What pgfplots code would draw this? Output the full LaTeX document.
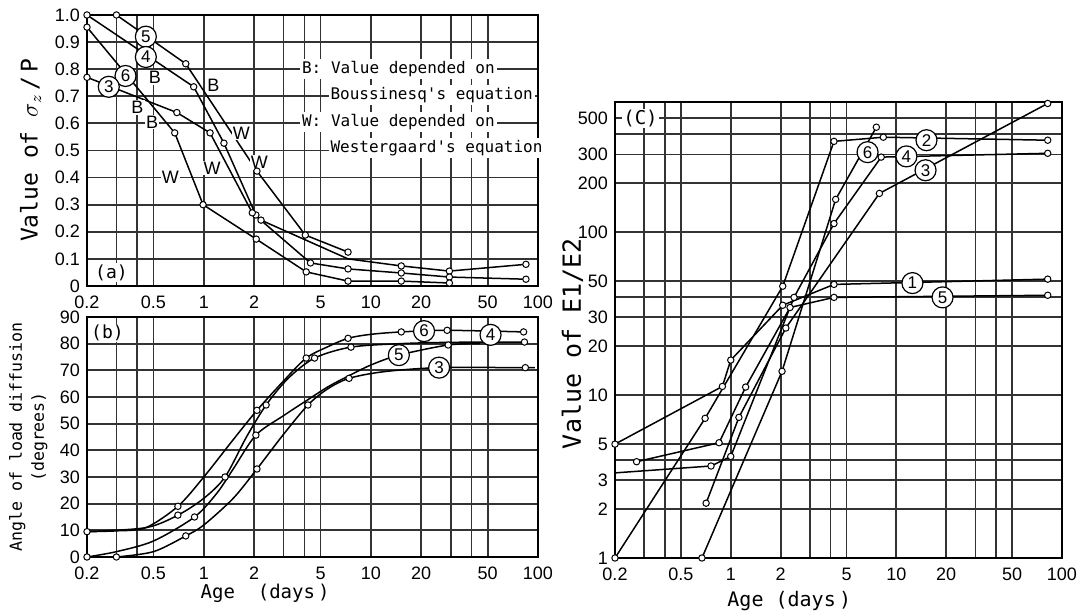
\documentclass[border=0pt]{standalone}
\usepackage{fontspec}
\setmainfont{Liberation Sans}
\newfontfamily\monof{DejaVu Sans Mono}
\usepackage{pgfplots}
\pgfplotsset{compat=1.18}
\tikzset{cnum/.style={circle, draw=black, line width=0.6pt, fill=white, inner sep=0pt, minimum size=10.5pt, font=\fontsize{8.5}{8.5}\selectfont},
lab/.style={fill=white, inner sep=0.6pt, font=\fontsize{9}{9}\selectfont},
leg/.style={fill=white, inner sep=1pt, anchor=west, font=\monof\fontsize{8}{9}\selectfont}}
\pgfplotsset{
dl/.style={black, line width=0.75pt, mark=*, mark size=1.6pt, mark options={fill=white, line width=0.5pt, solid}},
cl/.style={black, line width=0.75pt, smooth, no marks},
mk/.style={only marks, mark=*, mark size=1.6pt, mark options={fill=white, draw=black, line width=0.5pt}}
}
\begin{document}
\begin{tikzpicture}
\useasboundingbox (0pt,0pt) rectangle (542pt,307pt);
% ---------------- (a)
\begin{axis}[scale only axis, xmode=log, xmin=0.2, xmax=100,
 xtick={0.2,0.3,0.4,0.5,1,2,3,4,5,10,20,30,40,50,100},
 xticklabels={0.2,,,0.5,1,2,,,5,10,20,,,50,100},
 grid=major, major grid style={black!80, line width=0.9pt},
 major tick length=0pt, minor tick length=0pt,
 axis line style={line width=1pt},
 tick label style={font=\fontsize{9}{9}\selectfont},
 xticklabel style={yshift=-1.5pt},
 clip=false,
 at={(43.5pt,164pt)}, anchor=south west, width=225.5pt, height=135.5pt,
 ymin=0, ymax=1,
 ytick={0,0.1,0.2,0.3,0.4,0.5,0.6,0.7,0.8,0.9,1.0},
 yticklabels={0,0.1,0.2,0.3,0.4,0.5,0.6,0.7,0.8,0.9,1.0},
 ylabel={Value of $\sigma_{z}$\,/\,P},
 ylabel style={at={(axis description cs:-0.125,0.5)}, anchor=center, font=\monof\fontsize{11.5}{12}\selectfont}]
\addplot[dl] coordinates {(0.3,1.0) (0.78,0.82) (2.08,0.424) (4.05,0.188) (7.3,0.125)};
\addplot[dl, mark indices={1,2,3,4,5,7,8,9}] coordinates {(0.2,1.0) (0.87,0.735) (1.32,0.527) (2.05,0.262) (2.2,0.243) (7.3,0.10) (15.2,0.074) (29.5,0.055) (84.7,0.08)};
\addplot[dl] coordinates {(0.2,0.77) (0.69,0.64) (1.09,0.565) (1.95,0.27) (4.35,0.085) (7.3,0.063) (15.2,0.048) (29.5,0.033) (84.7,0.025)};
\addplot[dl] coordinates {(0.2,0.955) (0.67,0.565) (0.99,0.30) (2.06,0.173) (4.1,0.052) (7.3,0.018) (15.2,0.018) (29.5,0.011)};
\node[cnum] at (axis cs:0.45,0.92) {5};
\node[cnum] at (axis cs:0.45,0.845) {4};
\node[cnum] at (axis cs:0.34,0.775) {6};
\node[cnum] at (axis cs:0.27,0.735) {3};
\node[lab] at (axis cs:0.51,0.77) {B};
\node[lab] at (axis cs:1.14,0.74) {B};
\node[lab] at (axis cs:0.40,0.66) {B};
\node[lab] at (axis cs:0.49,0.605) {B};
\node[lab] at (axis cs:0.63,0.40) {W};
\node[lab] at (axis cs:1.12,0.435) {W};
\node[lab] at (axis cs:1.68,0.565) {W};
\node[lab] at (axis cs:2.15,0.457) {W};
\node[lab, font=\monof\fontsize{9}{9}\selectfont] at (axis cs:0.28,0.05) {(a)};
\node[leg] at (axis cs:3.75,0.80) {B:\ Value depended on};
\node[leg] at (axis cs:5.55,0.705) {Boussinesq's equation};
\node[leg] at (axis cs:3.75,0.605) {W:\ Value depended on};
\node[leg] at (axis cs:5.55,0.51) {Westergaard's equation};
\end{axis}
% ---------------- (b)
\begin{axis}[scale only axis, xmode=log, xmin=0.2, xmax=100,
 xtick={0.2,0.3,0.4,0.5,1,2,3,4,5,10,20,30,40,50,100},
 xticklabels={0.2,,,0.5,1,2,,,5,10,20,,,50,100},
 grid=major, major grid style={black!80, line width=0.9pt},
 major tick length=0pt, minor tick length=0pt,
 axis line style={line width=1pt},
 tick label style={font=\fontsize{9}{9}\selectfont},
 xticklabel style={yshift=-1.5pt},
 clip=false,
 at={(43.5pt,28.5pt)}, anchor=south west, width=225.5pt, height=120pt,
 ymin=0, ymax=90,
 ytick={0,10,20,30,40,50,60,70,80,90},
 yticklabels={0,10,20,30,40,50,60,70,80,90},
 ylabel={Angle of load diffusion\\(degrees)},
 ylabel style={at={(axis description cs:-0.13,0.5)}, anchor=center, align=center, font=\monof\fontsize{8.3}{11}\selectfont},
 xlabel={Age\ \ (days\,)},
 xlabel style={at={(axis description cs:0.395,-0.15)}, anchor=center, font=\monof\fontsize{9.5}{10}\selectfont}]
\addplot[cl] coordinates {(0.2,9.5) (0.3,9.8) (0.45,11) (0.7,19) (1,30) (1.5,44) (2.08,55) (3,66) (4.1,74.6) (5.5,78.8) (7.3,82) (10,83.5) (15.2,84.4) (28.6,85) (82,84.4)};
\addplot[mk] coordinates {(0.2,9.5) (0.7,19) (2.08,55) (4.1,74.6) (7.3,82) (15.2,84.4) (28.6,85) (82,84.4)};
\addplot[cl] coordinates {(0.2,9.5) (0.45,11) (0.7,15.7) (1,22) (1.34,30) (1.8,45) (2.36,57) (3.2,67) (4.6,74.6) (7.6,78.7) (15,80) (30,80.5) (83,80.6)};
\addplot[mk] coordinates {(0.7,15.7) (1.34,30) (2.36,57) (4.6,74.6) (7.6,78.7) (83,80.6)};
\addplot[cl] coordinates {(0.2,0) (0.3,2) (0.5,6) (0.88,15) (1.2,24) (1.5,33) (2.05,45.7) (3,53) (4.2,59) (5.6,64) (7.4,68) (10,72) (14.7,75.7) (29,79.5) (45,80)};
\addplot[mk] coordinates {(0.2,0) (0.88,15) (2.05,45.7) (29,79.5)};
\addplot[cl] coordinates {(0.3,0) (0.5,2) (0.78,7.9) (1,12) (1.5,22) (2.08,33) (3,46) (4.2,57) (5.5,63) (7.4,67) (12,69.5) (25.6,71) (84,71) (95,71)};
\addplot[mk] coordinates {(0.3,0) (0.78,7.9) (2.08,33) (4.2,57) (7.4,67) (84,71)};
\node[cnum] at (axis cs:20.8,84.7) {6};
\node[cnum] at (axis cs:52,83.3) {4};
\node[cnum] at (axis cs:14.7,75.7) {5};
\node[cnum] at (axis cs:25.6,71) {3};
\node[lab, font=\monof\fontsize{9}{9}\selectfont] at (axis cs:0.265,84) {(b)};
\end{axis}
% ---------------- (c)
\begin{axis}[scale only axis, xmode=log, ymode=log, xmin=0.2, xmax=100,
 xtick={0.2,0.3,0.4,0.5,1,2,3,4,5,10,20,30,40,50,100},
 xticklabels={0.2,,,0.5,1,2,,,5,10,20,,,50,100},
 grid=major, major grid style={black!80, line width=0.9pt},
 major tick length=0pt, minor tick length=0pt,
 axis line style={line width=1pt},
 tick label style={font=\fontsize{9}{9}\selectfont},
 xticklabel style={yshift=-1.5pt},
 clip=false,
 at={(307.5pt,28pt)}, anchor=south west, width=223.5pt, height=228pt,
 ymin=1, ymax=630,
 ytick={1,2,3,4,5,10,20,30,40,50,100,200,300,400,500},
 yticklabels={1,2,3,,5,10,20,30,,50,100,200,300,,500},
 ylabel={Value of E1/E2},
 ylabel style={at={(axis description cs:-0.095,0.47)}, anchor=center, font=\monof\fontsize{12.5}{13}\selectfont},
 xlabel={Age\ (days\,)},
 xlabel style={at={(axis description cs:0.39,-0.095)}, anchor=center, font=\monof\fontsize{10}{10}\selectfont}]
\addplot[dl] coordinates {(0.2,5) (0.89,11.3) (1.0,16.4) (2.06,35.6) (4.2,47.8) (82,51.5)};
\addplot[dl] coordinates {(0.27,3.9) (0.85,5.1) (1.23,11.2) (2.28,34.5) (4.2,39.8) (82,41)};
\addplot[dl] coordinates {(0.2,1) (0.70,7.2) (2.06,46.6) (4.2,361) (8.34,383) (82,367)};
\addplot[dl, mark indices={2,3,4,5,6,7}] coordinates {(0.2,3.33) (0.76,3.67) (1.0,4.2) (2.41,39.8) (4.2,113) (8.1,289) (82,305)};
\addplot[dl] coordinates {(0.71,2.17) (1.12,7.3) (2.15,25.8) (7.9,173) (82,617)};
\addplot[dl] coordinates {(0.67,1) (2.04,14.0) (4.3,159) (7.57,441)};
\node[cnum] at (axis cs:12.5,48.7) {1};
\node[cnum] at (axis cs:19,39.8) {5};
\node[cnum] at (axis cs:15.2,367) {2};
\node[cnum] at (axis cs:6.7,310) {6};
\node[cnum] at (axis cs:11.5,292) {4};
\node[cnum] at (axis cs:15,240) {3};
\node[lab, font=\monof\fontsize{9.5}{9.5}\selectfont] at (axis cs:0.285,500) {(C)};
\end{axis}
\end{tikzpicture}
\end{document}
